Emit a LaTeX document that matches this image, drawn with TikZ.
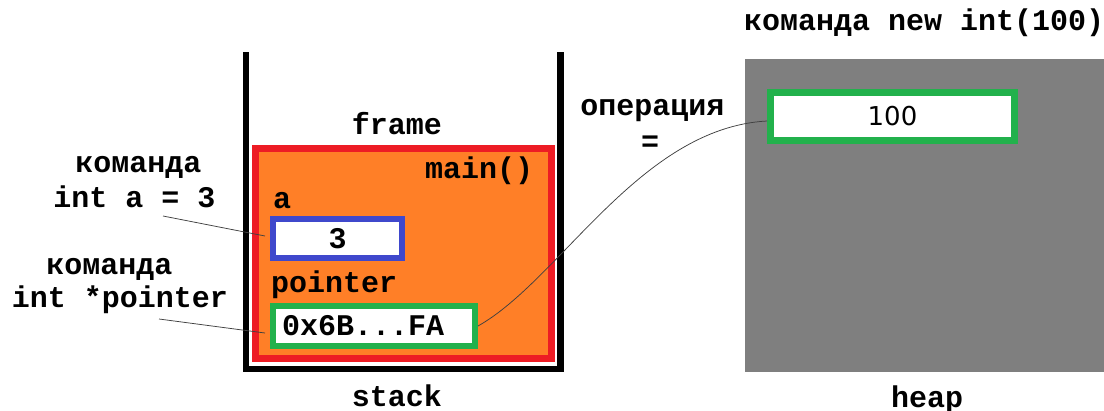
\documentclass[tikz,border=0pt]{standalone}
\usepackage{fontspec}
\setmainfont{Liberation Mono}
\newfontfamily\dejavu{DejaVu Sans}
\definecolor{pRed}{RGB}{237,28,36}
\definecolor{pOrange}{RGB}{255,127,39}
\definecolor{pBlue}{RGB}{63,72,204}
\definecolor{pGreen}{RGB}{34,177,76}
\definecolor{pGray}{RGB}{127,127,127}
\begin{document}
\begin{tikzpicture}[x=1pt,y=-1pt,
  txt/.style={font=\bfseries\fontsize{30}{36}\selectfont, inner sep=0pt, anchor=base},
  valbox/.style={draw, fill=white, inner sep=0pt, font=\bfseries\fontsize{30}{36}\selectfont},
  conn/.style={draw=black!75, line width=0.75pt}
]
\useasboundingbox (0,0) rectangle (1104,410);
% heap
\node[fill=pGray, minimum width=359pt, minimum height=313pt, inner sep=0pt] (heap) at (924.5,215.5) {};
% stack container
\draw[line width=6.5pt, line join=miter] (246,52) -- (246,369) -- (560.5,369) -- (560.5,52);
% frame
\node[draw=pRed, fill=pOrange, line width=7pt, minimum width=296pt, minimum height=210pt, inner sep=0pt] (frame) at (403.5,253.5) {};
% boxes
\node[valbox, draw=pBlue, line width=6pt, minimum width=129pt, minimum height=39pt] (aval) at (337.5,238.5) {3};
\node[valbox, draw=pGreen, line width=6pt, minimum width=202pt, minimum height=40pt, inner xsep=9pt, text width=184pt, align=left] (ptr) at (374,326) {0x6B...FA};
\node[valbox, draw=pGreen, line width=7pt, minimum width=244pt, minimum height=48pt, font=\dejavu\fontsize{26}{30}\selectfont] (hval) at (892.5,116.5) {100};
% labels
\node[txt] (lframe) at (397,134) {frame};
\node[txt, anchor=base west] (lmain) at (425,178) {main()};
\node[txt, anchor=base west] (la) at (273,208) {a};
\node[txt, anchor=base west] (lptr) at (271,292) {pointer};
\node[txt] (lstack) at (397,406) {stack};
\node[txt] (lheap) at (927,407) {heap};
\node[txt, anchor=base west] (lnew) at (744,30) {команда new int(100)};
\node[txt] (lop) at (652.5,115) {операция};
\node[txt] (leq) at (650,151) {=};
\node[txt] (c1a) at (138.5,172) {команда};
\node[txt] (c1b) at (134.5,207) {int a = 3};
\node[txt] (c2a) at (109.5,274) {команда};
\node[txt] (c2b) at (120,307) {int *pointer};
% connectors
\coordinate (s1) at (163,216);
\coordinate (e1) at (265,236);
\coordinate (s2) at (159,319);
\coordinate (e2) at (265,333);
\coordinate (p1) at (478,326);
\coordinate (p2) at (767,121);
\draw[conn] (s1) -- (e1);
\draw[conn] (s2) -- (e2);
\draw[conn] (p1) .. controls (560,280) and (640,128) .. (p2);
\end{tikzpicture}
\end{document}
